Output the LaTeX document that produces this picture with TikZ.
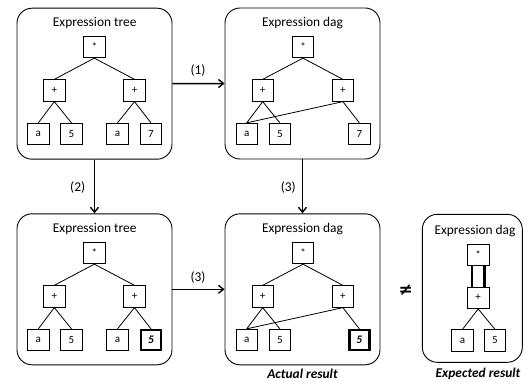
\documentclass[tikz,border=0pt]{standalone}
\usepackage{fontspec}
\setmainfont{Carlito}
\newfontfamily\symfont{DejaVu Sans}
\usetikzlibrary{arrows.meta,calc}
\begin{document}
\begin{tikzpicture}[x=1pt,y=-1pt,
  panel/.style={draw,line width=0.9pt,rounded corners=15pt,minimum width=155pt,minimum height=151pt,inner sep=0pt},
  nd/.style={draw,line width=0.8pt,minimum size=21.5pt,inner sep=0pt,font=\fontsize{11}{12}\selectfont},
  bnd/.style={nd,line width=2.2pt,minimum size=20pt,font=\fontsize{11.5}{12}\selectfont\bfseries\itshape},
  ttl/.style={font=\fontsize{13.4}{15}\selectfont},
  lbl/.style={font=\fontsize{13.4}{15}\selectfont},
  res/.style={font=\fontsize{13.4}{15}\selectfont\bfseries\itshape},
  ed/.style={line width=0.8pt},
  arr/.style={line width=1.5pt,-{Straight Barb[length=5pt,width=8pt,line width=1.4pt]}}
]
\useasboundingbox (0,0) rectangle (532,382);
% panels
\node[panel] (b1) at (94.5,83.7) {};
\node[panel] (b2) at (302.5,83.5) {};
\node[panel] (b3) at (94.5,289.3) {};
\node[panel] (b4) at (302.5,289.3) {};
\node[panel,minimum width=100pt,minimum height=148pt] (b5) at (472.3,288.3) {};
% titles
\node[ttl] (t1) at (94.7,23) {Expression tree};
\node[ttl] (t2) at (302.5,23) {Expression dag};
\node[ttl] (t3) at (94.7,229.3) {Expression tree};
\node[ttl] (t4) at (302.5,229.3) {Expression dag};
\node[ttl] (t5) at (475,230.7) {Expression dag};
% tree 1
\node[nd] (r1) at (94.3,47) {*};
\node[nd] (l1) at (54.3,90.5) {+};
\node[nd] (q1) at (134.5,90.5) {+};
\node[nd] (a1) at (38.3,134) {a};
\node[nd] (f1) at (71.5,134) {5};
\node[nd] (c1) at (117.5,134) {a};
\node[nd] (s1) at (151,134) {7};
\draw[ed] (r1.south) -- (l1.north) (r1.south) -- (q1.north)
  (l1.south) -- (a1.north) (l1.south) -- (f1.north)
  (q1.south) -- (c1.north) (q1.south) -- (s1.north);
% dag 2
\node[nd] (r2) at (303,47) {*};
\node[nd] (l2) at (262.7,90.5) {+};
\node[nd] (q2) at (342.9,90.5) {+};
\node[nd] (a2) at (246.7,134) {a};
\node[nd] (f2) at (279.9,134) {5};
\node[nd] (s2) at (359.4,134) {7};
\draw[ed] (r2.south) -- (l2.north) (r2.south) -- (q2.north)
  (l2.south) -- (a2.north) (l2.south) -- (f2.north)
  (q2.south) -- (a2.north) (q2.south) -- (s2.north);
% tree 3
\node[nd] (r3) at (94.3,253) {*};
\node[nd] (l3) at (54.3,296.5) {+};
\node[nd] (q3) at (134.5,296.5) {+};
\node[nd] (a3) at (38.3,340) {a};
\node[nd] (f3) at (71.5,340) {5};
\node[nd] (c3) at (117.5,340) {a};
\node[bnd] (s3) at (151,340) {5};
\draw[ed] (r3.south) -- (l3.north) (r3.south) -- (q3.north)
  (l3.south) -- (a3.north) (l3.south) -- (f3.north)
  (q3.south) -- (c3.north) (q3.south) -- (s3.north);
% dag 4
\node[nd] (r4) at (303,253) {*};
\node[nd] (l4) at (262.7,296.5) {+};
\node[nd] (q4) at (342.9,296.5) {+};
\node[nd] (a4) at (246.7,340) {a};
\node[nd] (f4) at (279.9,340) {5};
\node[bnd] (s4) at (359.4,340) {5};
\draw[ed] (r4.south) -- (l4.north) (r4.south) -- (q4.north)
  (l4.south) -- (a4.north) (l4.south) -- (f4.north)
  (q4.south) -- (a4.north) (q4.south) -- (s4.north);
% dag 5
\node[nd] (r5) at (478.2,254.7) {*};
\node[nd] (p5) at (478.2,297.8) {+};
\node[nd] (a5) at (462.5,340.5) {a};
\node[nd] (f5) at (495,340.5) {5};
\draw[line width=2.3pt] ($(r5.south)+(-6.2,0)$) -- ($(p5.north)+(-6.2,0)$)
  ($(r5.south)+(6.2,0)$) -- ($(p5.north)+(6.2,0)$);
\draw[ed] (p5.south) -- (a5.north) (p5.south) -- (f5.north);
% arrows
\draw[arr] (b1.east) -- (b2.west);
\draw[arr] (b1.south) -- (b3.north);
\draw[arr] (b2.south) -- (b4.north);
\draw[arr] (b3.east) -- (b4.west);
\node[lbl] (n1) at (198,71) {(1)};
\node[lbl] (n2) at (77.7,188) {(2)};
\node[lbl] (n3) at (288.3,188) {(3)};
\node[lbl] (n4) at (198,277.3) {(3)};
% results
\node[font=\fontsize{17}{17}\symfont\bfseries] (ne) at (405.7,290) {≠};
\node[res] (ar) at (302.5,374.3) {Actual result};
\node[res] (er) at (478,374.3) {Expected result};
\end{tikzpicture}
\end{document}
